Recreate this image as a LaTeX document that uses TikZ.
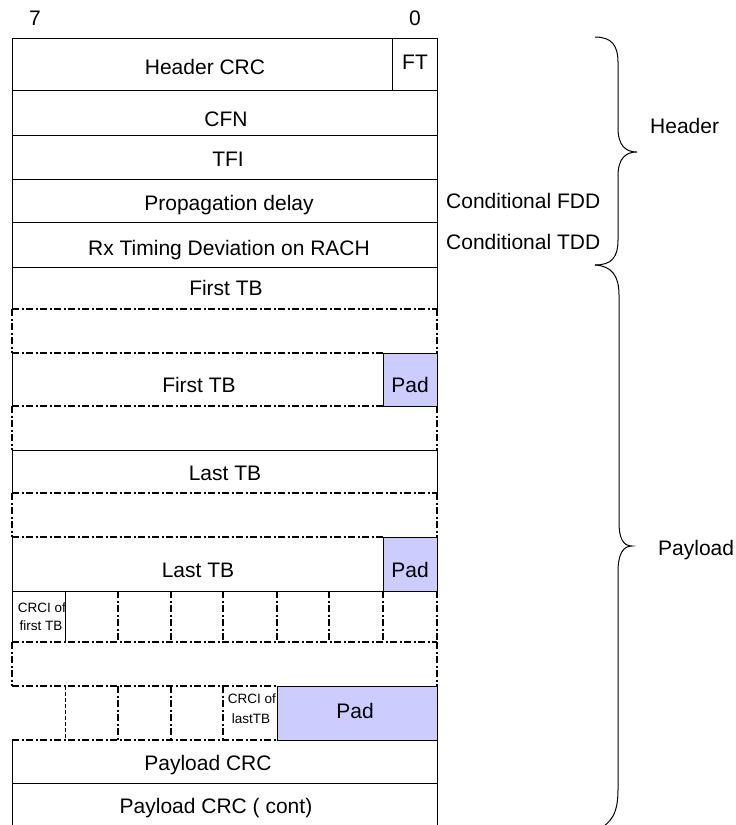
\documentclass[tikz,border=0pt]{standalone}
\usepackage{fontspec}
\setmainfont{Liberation Sans}
\definecolor{padblue}{RGB}{204,204,255}
\begin{document}
\begin{tikzpicture}[x=1pt,y=-1pt,
  solidln/.style={line width=1pt},
  dashdot/.style={line width=1.4pt, dash pattern=on 7pt off 2.5pt on 2pt off 2.5pt},
  thindash/.style={line width=0.8pt, dash pattern=on 4pt off 2pt},
  lbl/.style={font=\fontsize{21}{25}\selectfont, anchor=base, inner sep=0pt},
  small/.style={font=\fontsize{13.5}{16}\selectfont, anchor=base, inner sep=0pt},
  pad/.style={fill=padblue, draw=black, line width=1pt},
  brace/.style={line width=1pt}
]
\useasboundingbox (0,0) rectangle (736,825);
\clip (0,0) rectangle (736,825);
% header block
\draw[solidln] (12,38) rectangle (437,267);
\foreach \y in {90,135,179,222} \draw[solidln] (12,\y) -- (437,\y);
\draw[solidln] (392,38) -- (392,90);
% First TB row
\draw[solidln] (12,267) -- (12,309) (437,267) -- (437,309);
\draw[dashdot] (12,309) -- (437,309);
\draw[dashdot] (12,309) -- (12,353) (437,309) -- (437,353);
% First TB with pad
\draw[dashdot] (12,353) -- (383,353);
\draw[solidln] (12,353) -- (12,406);
\draw[dashdot] (12,406) -- (383,406);
\draw[dashdot] (12,406) -- (12,450) (437,406) -- (437,450);
% Last TB
\draw[solidln] (12,450) -- (437,450) (12,450) -- (12,493) (437,450) -- (437,493);
\draw[dashdot] (12,493) -- (437,493);
\draw[dashdot] (12,493) -- (12,537) (437,493) -- (437,537);
% Last TB with pad
\draw[dashdot] (12,537) -- (383,537);
\draw[solidln] (12,537) -- (12,591) -- (383,591);
% CRCI row
\draw[solidln] (12,591) -- (12,642) (65,591) -- (65,642);
\foreach \x in {118,171,223,277,329,383,437} \draw[dashdot] (\x,591) -- (\x,642);
\draw[dashdot] (12,642) -- (437,642);
\draw[dashdot] (12,642) -- (12,686) (437,642) -- (437,686);
\draw[dashdot] (12,686) -- (277,686);
% last CRCI row
\draw[thindash] (65,686) -- (65,740);
\foreach \x in {118,171,223} \draw[dashdot] (\x,686) -- (\x,740);
\draw[dashdot] (12,740) -- (277,740);
% payload CRC
\draw[solidln] (12,740) -- (12,830) (437,740) -- (437,830) (12,783) -- (437,783);
% pads
\filldraw[pad] (383,353) rectangle (437,406);
\filldraw[pad] (383,537) rectangle (437,591);
\filldraw[pad] (277,686) rectangle (437,740);
% texts
\node[lbl] (seven) at (35,25) {7};
\node[lbl] (zero) at (415,25) {0};
\node[lbl] (hcrc) at (205,74) {Header CRC};
\node[lbl] (ft) at (415,69) {FT};
\node[lbl] (cfn) at (226,126) {CFN};
\node[lbl] (tfi) at (228,166) {TFI};
\node[lbl] (prop) at (229,210) {Propagation delay};
\node[lbl] (rx) at (229,255) {Rx Timing Deviation on RACH};
\node[lbl] (ftb1) at (226,295) {First TB};
\node[lbl] (ftb2) at (199,392) {First TB};
\node[lbl] (pad1) at (410,392) {Pad};
\node[lbl] (ltb1) at (225,480) {Last TB};
\node[lbl] (ltb2) at (198,577) {Last TB};
\node[lbl] (pad2) at (410,577) {Pad};
\node[small] (crcia) at (42,612) {CRCI of};
\node[small] (crcib) at (41,630) {first TB};
\node[small] (crcic) at (252,703) {CRCI of};
\node[small] (crcid) at (251,723) {lastTB};
\node[lbl] (pad3) at (355,718) {Pad};
\node[lbl] (pcrc) at (208,770) {Payload CRC};
\node[lbl] (pcrc2) at (216,813) {Payload CRC ( cont)};
\node[lbl, anchor=base west] (cfdd) at (446,208) {Conditional FDD};
\node[lbl, anchor=base west] (ctdd) at (446,249) {Conditional TDD};
\node[lbl, anchor=base west] (hdr) at (650,133) {Header};
\node[lbl, anchor=base west] (pl) at (658,555) {Payload};
% braces
\draw[brace] (595,37) .. controls (612,37) and (618,46) .. (618,62) -- (618,128) .. controls (618,146) and (626,152) .. (637,152) .. controls (626,152) and (618,158) .. (618,176) -- (618,240) .. controls (618,257) and (612,265) .. (595,265);
\draw[brace] (595,265) .. controls (612,266) and (619,276) .. (619,295) -- (619,522) .. controls (619,538) and (623,546) .. (632,546) .. controls (623,546) and (618,554) .. (618,572) -- (618,790) .. controls (618,812) and (612,824) .. (596,830);
\end{tikzpicture}
\end{document}
